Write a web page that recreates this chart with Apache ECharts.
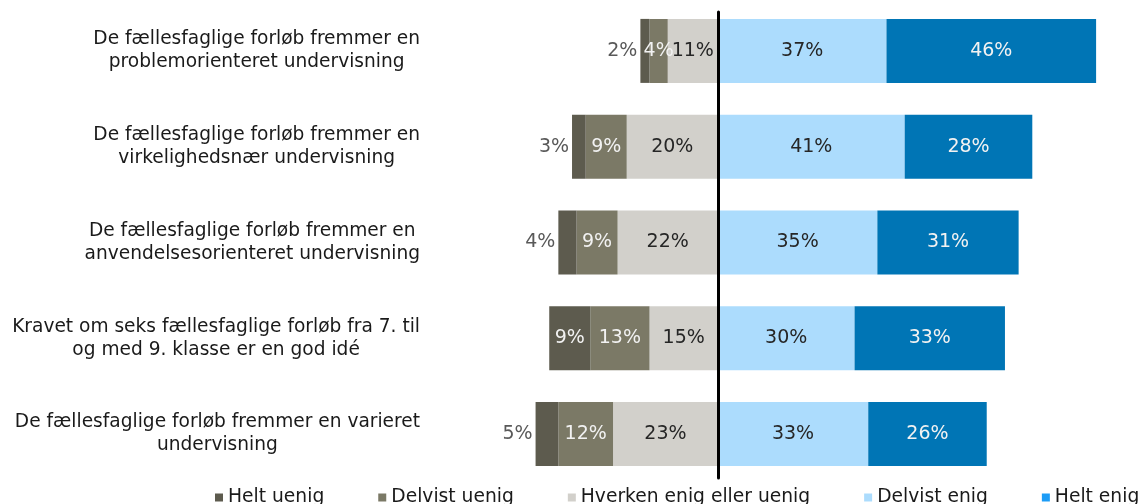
<!DOCTYPE html>
<html>
<head>
<meta charset="utf-8">
<script src="https://cdn.jsdelivr.net/npm/echarts@6/dist/echarts.min.js"></script>
<style>
  html, body { margin: 0; padding: 0; background: #fff; }
  #chart { width: 1143px; height: 504px; }
</style>
</head>
<body>
<div id="chart"></div>
<script>
  // udsagn (top til bund)
  const categories = [
    'De fællesfaglige forløb fremmer en\nproblemorienteret undervisning',
    'De fællesfaglige forløb fremmer en\nvirkelighedsnær undervisning',
    'De fællesfaglige forløb fremmer en\nanvendelsesorienteret undervisning',
    'Kravet om seks fællesfaglige forløb fra 7. til\nog med 9. klasse er en god idé',
    'De fællesfaglige forløb fremmer en varieret\nundervisning'
  ]
  const heltUenig = [2, 3, 4, 9, 5]
  const delvistUenig = [4, 9, 9, 13, 12]
  const hverken = [11, 20, 22, 15, 23]
  const delvistEnig = [37, 41, 35, 30, 33]
  const heltEnig = [46, 28, 31, 33, 26]

  const font = 'DejaVu Sans'
  const pct = p => Math.abs(p.value) + '%'

  let myChart = echarts.init(document.getElementById('chart'))

  // label centreret linje for linje, blokken højrestillet
  const catLabel = v => v.split('\n').map(s => '{c|' + s + '}').join('\n')

  let option = {
    animation: false,
    textStyle: { fontFamily: font },
    legend: {
      left: 210,
      top: 483,
      width: 940,
      icon: 'rect',
      itemWidth: 8,
      itemHeight: 8,
      itemGap: 54,
      textStyle: { fontSize: 18.7, color: '#1a1a1a', fontFamily: font },
      data: [
        'Helt uenig',
        'Delvist uenig',
        'Hverken enig eller uenig',
        'Delvist enig',
        { name: 'Helt enig', itemStyle: { color: '#1c9cf6' } }
      ]
    },
    grid: [
      { left: 490, right: 15, top: 3, bottom: 22 },
      { left: 490, right: 15, top: 12, bottom: 26 }
    ],
    xAxis: [
      { type: 'value', min: -50, max: 90, show: false, gridIndex: 0 },
      { type: 'value', min: -50, max: 90, show: false, gridIndex: 1 }
    ],
    yAxis: [
      {
        type: 'category',
        gridIndex: 0,
        inverse: true,
        data: categories,
        axisLine: { show: false, onZero: false },
        axisTick: { show: false },
        axisLabel: {
          margin: 70,
          lineHeight: 23,
          formatter: catLabel,
          rich: {
            c: { align: 'center', fontSize: 18.6, lineHeight: 23, color: '#1a1a1a', fontFamily: font }
          }
        }
      },
      {
        // midterlinjen
        type: 'category',
        gridIndex: 1,
        data: categories,
        z: 10,
        axisLine: { show: true, onZero: true, lineStyle: { color: '#000', width: 3 } },
        axisTick: { show: false },
        axisLabel: { show: false }
      }
    ],
    series: [
      {
        name: 'Hverken enig eller uenig',
        type: 'bar', stack: 'total', barWidth: 64,
        itemStyle: { color: '#d2d0cb' },
        label: { show: true, position: 'inside', formatter: pct, color: '#262626', fontSize: 19, fontFamily: font },
        data: hverken.map(v => -v)
      },
      {
        name: 'Delvist uenig',
        type: 'bar', stack: 'total', barWidth: 64,
        itemStyle: { color: '#7b7966' },
        label: { show: true, position: 'inside', formatter: pct, color: '#f2f2f2', fontSize: 19, fontFamily: font },
        data: delvistUenig.map(v => -v)
      },
      {
        name: 'Helt uenig',
        type: 'bar', stack: 'total', barWidth: 64,
        itemStyle: { color: '#5d5b4e' },
        label: { show: true, position: 'inside', formatter: pct, color: '#f2f2f2', fontSize: 19, fontFamily: font },
        data: heltUenig.map(v => ({
          value: -v,
          label: v < 6 ? { position: 'left', distance: 3, color: '#595959' } : {}
        }))
      },
      {
        name: 'Delvist enig',
        type: 'bar', stack: 'total', barWidth: 64,
        itemStyle: { color: '#acdcfd' },
        label: { show: true, position: 'inside', formatter: pct, color: '#262626', fontSize: 19, fontFamily: font },
        data: delvistEnig
      },
      {
        name: 'Helt enig',
        type: 'bar', stack: 'total', barWidth: 64,
        itemStyle: { color: '#0075b5' },
        label: { show: true, position: 'inside', formatter: pct, color: '#f2f2f2', fontSize: 19, fontFamily: font },
        data: heltEnig
      }
    ]
  }

  myChart.setOption(option)
</script>
</body>
</html>
